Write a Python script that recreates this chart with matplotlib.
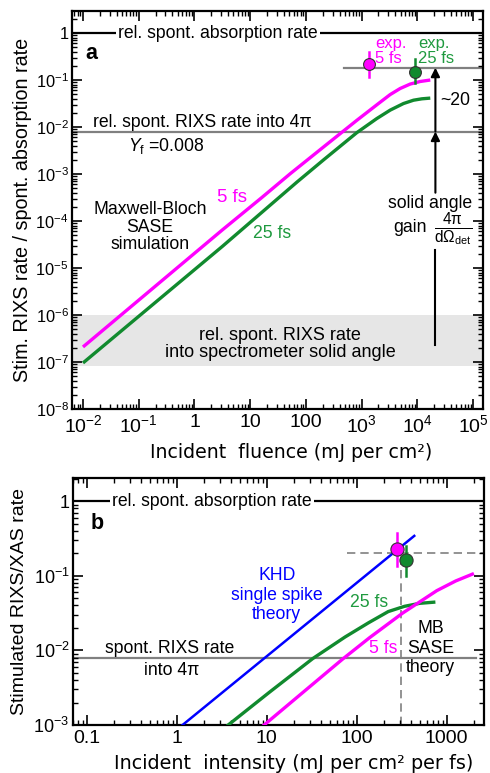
import matplotlib
matplotlib.use("Agg")
import matplotlib.pyplot as plt
from matplotlib.ticker import LogLocator, NullFormatter

plt.rcParams['font.family'] = ['Liberation Sans', 'DejaVu Sans']
plt.rcParams['mathtext.fontset'] = 'custom'
plt.rcParams['mathtext.rm'] = 'Liberation Sans'
plt.rcParams['mathtext.it'] = 'Liberation Sans:italic'
plt.rcParams['mathtext.bf'] = 'Liberation Sans:bold'

# ---------------- data: panel a (fluence) ----------------
fluence_5fs = [0.01, 3.16, 15.8, 52.5, 209, 813, 2000, 3240, 4900, 7410, 11200, 17000]
ratio_5fs_a = [2.09e-7, 6.46e-5, 3.09e-4, 1.02e-3, 3.8e-3, 1.38e-2, 3.16e-2, 4.9e-2, 6.6e-2, 8.2e-2, 9.3e-2, 0.100]
fluence_25fs = [0.01, 3.16, 69.2, 207, 819, 1860, 3250, 5620, 8510, 12000, 17000]
ratio_25fs_a = [9.55e-8, 2.88e-5, 6.76e-4, 2.0e-3, 7.6e-3, 1.51e-2, 2.29e-2, 3.16e-2, 3.72e-2, 3.98e-2, 4.12e-2]
exp_a_x = [1325, 8870]
exp_a_y = [0.219, 0.150]
exp_a_lo = [0.114, 0.085]
exp_a_hi = [0.40, 0.275]
spont_abs = 1.0
spont_rixs_4pi = 0.008
exp_level_a = 0.183
band_lo, band_hi = 8.3e-8, 1.0e-6

# ---------------- data: panel b (intensity) ----------------
khd_x = [1.156, 436]
khd_y = [1e-3, 0.342]
int_25fs = [3.72, 10.7, 32.4, 74.1, 135, 224, 339, 501, 718]
ratio_25fs_b = [1e-3, 2.75e-3, 7.76e-3, 1.51e-2, 2.34e-2, 3.31e-2, 3.89e-2, 4.27e-2, 4.42e-2]
int_5fs = [9.33, 69.2, 139, 324, 776, 1260, 1930]
ratio_5fs_b = [1e-3, 7.59e-3, 1.48e-2, 3.16e-2, 6.31e-2, 8.51e-2, 0.105]
exp_b_x = [283, 357]
exp_b_y = [0.227, 0.162]
exp_b_lo = [0.135, 0.10]
exp_b_hi = [0.376, 0.25]
exp_level_b = 0.2
exp_int_b = 314

MAG = '#ff00ff'
GRN = '#118a2e'
GRN_T = '#1f9a3f'
BLU = '#0000ff'
GRY = '#808080'

fig = plt.figure(figsize=(4.9, 7.73), dpi=100)
axa = fig.add_axes([72/490, 1-409/773, 411/490, 398/773])
axb = fig.add_axes([73/490, 1-725/773, 411/490, 247/773])

FS = 12.7

def style(ax, xls, yls):
    ax.set_xscale('log'); ax.set_yscale('log')
    for s in ax.spines.values():
        s.set_linewidth(1.6)
    ax.tick_params(which='both', direction='in', top=True, right=True, width=1.2)
    ax.tick_params(axis='x', labelsize=xls)
    ax.tick_params(axis='y', labelsize=yls, pad=2.5)
    ax.tick_params(which='major', length=7)
    ax.tick_params(which='minor', length=3.5, width=1.0)
    ax.xaxis.set_minor_locator(LogLocator(base=10, subs=range(2, 10), numticks=30))
    ax.yaxis.set_minor_locator(LogLocator(base=10, subs=range(2, 10), numticks=30))
    ax.xaxis.set_minor_formatter(NullFormatter()); ax.yaxis.set_minor_formatter(NullFormatter())

# ---------- panel a ----------
ax = axa
style(ax, 14, 11.8)
ax.set_xlim(0.00635, 1.5e5)
ax.set_ylim(1e-8, 2.94)
ax.axhspan(band_lo, band_hi, color='#e6e6e6', lw=0, zorder=0)
ax.axhline(spont_abs, color='k', lw=1.6, zorder=1)
ax.axhline(spont_rixs_4pi, color=GRY, lw=1.6, zorder=1)
ax.plot([472, 1.5e5], [exp_level_a, exp_level_a], color=GRY, lw=1.6, zorder=1)
ax.plot(fluence_5fs, ratio_5fs_a, color=MAG, lw=2.4, zorder=3, solid_capstyle='butt')
ax.plot(fluence_25fs, ratio_25fs_a, color=GRN, lw=2.4, zorder=3, solid_capstyle='butt')
for x, y, lo, hi, c in zip(exp_a_x, exp_a_y, exp_a_lo, exp_a_hi, [MAG, GRN]):
    ax.plot([x, x], [lo, hi], color=c, lw=1.8, zorder=4)
    ax.plot([x], [y], 'o', ms=8.5, mfc=c, mec='#333333', mew=0.8, zorder=5)

xa = 2.1e4
ap = dict(arrowstyle='-|>', color='k', lw=1.5, mutation_scale=13, shrinkA=0, shrinkB=0)
ax.annotate('', xy=(xa, exp_level_a), xytext=(xa, spont_rixs_4pi), arrowprops=ap, zorder=6)
ax.annotate('', xy=(xa, spont_rixs_4pi), xytext=(xa, 4e-4), arrowprops=ap, zorder=6)
ax.plot([xa, xa], [2.3e-7, 2.4e-5], color='k', lw=1.5)

ax.set_xticks([1e-2, 1e-1, 1, 10, 100, 1e3, 1e4, 1e5])
ax.set_xticklabels(['10$^{-2}$', '10$^{-1}$', '1', '10', '100', '10$^{3}$', '10$^{4}$', '10$^{5}$'])
ax.set_yticks([1e-8, 1e-7, 1e-6, 1e-5, 1e-4, 1e-3, 1e-2, 1e-1, 1])
ax.set_yticklabels(['10$^{-8}$', '10$^{-7}$', '10$^{-6}$', '10$^{-5}$', '10$^{-4}$', '10$^{-3}$', '10$^{-2}$', '10$^{-1}$', '1'])
ax.set_xlabel('Incident  fluence (mJ per cm²)', family='DejaVu Sans', fontsize=13.6)
ax.xaxis.set_label_coords(0.533, -0.086)
ax.set_ylabel('Stim. RIXS rate / spont. absorption rate', fontsize=14.2)
ax.yaxis.set_label_coords(-0.098, 0.5)

ax.text(0.0139, 0.375, 'a', fontsize=15.5, fontweight='bold', ha='center', va='center')
ax.text(2.63, 1.0, 'rel. spont. absorption rate', fontsize=FS, ha='center', va='center',
        bbox=dict(fc='white', ec='none', pad=1.5), zorder=2)
ax.text(0.0151, 0.0122, 'rel. spont. RIXS rate into 4π', fontsize=FS, ha='left', va='center')
ax.text(0.0646, 0.0040, '$Y_{\\mathrm{f}}$ =0.008', fontsize=FS, ha='left', va='center')
ax.text(0.16, 7.4e-5, 'Maxwell-Bloch\nSASE\nsimulation', fontsize=FS, ha='center', va='center', linespacing=1.05)
ax.text(4.73, 3.2e-4, '5 fs', fontsize=13.4, color=MAG, ha='center', va='center')
ax.text(24.5, 5.5e-5, '25 fs', fontsize=FS, color=GRN_T, ha='center', va='center')
ax.text(34.7, 2.4e-7, 'rel. spont. RIXS rate\ninto spectrometer solid angle', fontsize=13,
        ha='center', va='center', linespacing=1.0)
ax.text(1740, 0.414, 'exp.\n5 fs', fontsize=12, color=MAG, ha='left', va='center', linespacing=1.0)
ax.text(10200, 0.414, 'exp.\n25 fs', fontsize=12, color=GRN_T, ha='left', va='center', linespacing=1.0)
ax.text(4.8e4, 0.037, '~20', fontsize=FS, ha='center', va='center')
ax.text(1.7e4, 2.4e-4, 'solid angle', fontsize=FS, ha='center', va='center')
ax.text(7400, 7.4e-5, 'gain', fontsize=FS, ha='center', va='center')
ax.text(4.4e4, 6.5e-5, r'$\frac{\mathrm{4π}}{\mathrm{d}\Omega_{\mathrm{det}}}$', fontsize=16,
        ha='center', va='center')

# ---------- panel b ----------
ax = axb
style(ax, 14, 13)
ax.set_xlim(0.07, 2600)
ax.set_ylim(1e-3, 2.04)
ax.axhline(spont_abs, color='k', lw=1.6, zorder=1)
ax.axhline(spont_rixs_4pi, xmax=0.98, color=GRY, lw=1.6, zorder=1)
ax.plot([77, 2600], [exp_level_b, exp_level_b], color=GRY, lw=1.2, ls=(0, (5, 3)), zorder=1)
ax.plot([exp_int_b, exp_int_b], [1e-3, exp_level_b], color=GRY, lw=1.2, ls=(0, (5, 3)), zorder=1)
ax.plot(khd_x, khd_y, color=BLU, lw=1.8, zorder=3)
ax.plot(int_25fs, ratio_25fs_b, color=GRN, lw=2.4, zorder=3)
ax.plot(int_5fs, ratio_5fs_b, color=MAG, lw=2.4, zorder=3)
for x, y, lo, hi, c in zip(exp_b_x, exp_b_y, exp_b_lo, exp_b_hi, [MAG, GRN]):
    ax.plot([x, x], [lo, hi], color=c, lw=1.8, zorder=4)
    ax.plot([x], [y], 'o', ms=9.5, mfc=c, mec='#333333', mew=0.8, zorder=5)

ax.set_xticks([0.1, 1, 10, 100, 1000])
ax.set_xticklabels(['0.1', '1', '10', '100', '1000'])
ax.set_yticks([1e-3, 1e-2, 1e-1, 1])
ax.set_yticklabels(['10$^{-3}$', '10$^{-2}$', '10$^{-1}$', '1'])
ax.set_xlabel('Incident  intensity (mJ per cm² per fs)', family='DejaVu Sans', fontsize=13.8)
ax.xaxis.set_label_coords(0.538, -0.118)
ax.set_ylabel('Stimulated RIXS/XAS rate', fontsize=14)
ax.yaxis.set_label_coords(-0.11, 0.5)

ax.text(0.129, 0.5, 'b', fontsize=15.5, fontweight='bold', ha='center', va='center')
ax.text(2.45, 1.0, 'rel. spont. absorption rate', fontsize=FS, ha='center', va='center',
        bbox=dict(fc='white', ec='none', pad=1.5), zorder=2)
ax.text(12.9, 0.055, 'KHD\nsingle spike\ntheory', fontsize=FS, color=BLU, ha='center', va='center',
        linespacing=1.2)
ax.text(138, 0.0437, '25 fs', fontsize=FS, color=GRN_T, ha='center', va='center')
ax.text(195, 0.0107, '5 fs', fontsize=FS, color=MAG, ha='center', va='center')
ax.text(665, 0.0107, 'MB\nSASE\ntheory', fontsize=FS, ha='center', va='center', linespacing=1.2)
ax.text(0.836, 0.0106, 'spont. RIXS rate', fontsize=FS, ha='center', va='center')
ax.text(0.88, 0.0054, 'into 4π', fontsize=FS, ha='center', va='center')

fig.savefig('out.png', dpi=100)
